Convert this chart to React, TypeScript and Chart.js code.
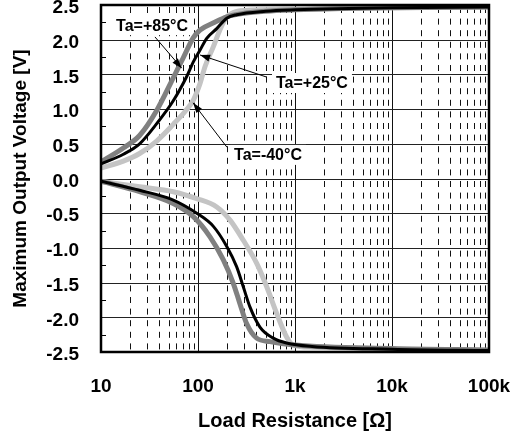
import React, { useEffect, useRef } from 'react';
import { Chart, registerables } from 'chart.js';

Chart.register(...registerables);

// ---- axis ticks ----
const xTickValues = [10, 100, 1000, 10000, 100000];
const xTickLabels = ['10', '100', '1k', '10k', '100k'];
const yTickValues = [-2.5, -2.0, -1.5, -1.0, -0.5, 0.0, 0.5, 1.0, 1.5, 2.0, 2.5];
const yMinorTickValues = [-2.25, -1.75, -1.25, -0.75, -0.25, 0.25, 0.75, 1.25, 1.75, 2.25];
const xMinorMultipliers = [2, 3, 4, 5, 6, 7, 8, 9];

// ---- series (load resistance [ohm], voltage [V]) ----
// Ta=+85°C
const r85Pos = [10, 17, 25, 37.5, 55.6, 70.5, 89.5, 105, 143, 198, 300, 500, 1000, 3000, 10000, 100000];
const v85Pos = [0.24, 0.44, 0.62, 0.98, 1.45, 1.74, 2.03, 2.14, 2.24, 2.33, 2.38, 2.41, 2.43, 2.45, 2.46, 2.47];
const r85Neg = [10, 25, 55.6, 89.5, 133, 182, 231, 270, 317, 402, 552, 1000, 10000, 100000];
const v85Neg = [-0.04, -0.19, -0.36, -0.55, -0.84, -1.17, -1.51, -1.8, -2.09, -2.3, -2.35, -2.4, -2.45, -2.47];
// Ta=+25°C
const r25Pos = [10, 17, 25, 37.5, 55.6, 76.5, 89.5, 105, 123, 156, 198, 250, 500, 1000, 10000, 100000];
const v25Pos = [0.21, 0.35, 0.5, 0.79, 1.12, 1.47, 1.68, 1.85, 2.02, 2.16, 2.31, 2.36, 2.41, 2.43, 2.46, 2.47];
const r25Neg = [10, 25, 55.6, 97, 144, 198, 250, 293, 343, 435, 597, 817, 1500, 10000, 100000];
const v25Neg = [-0.04, -0.17, -0.31, -0.5, -0.69, -0.98, -1.27, -1.56, -1.85, -2.14, -2.3, -2.37, -2.42, -2.46, -2.48];
// Ta=-40°C
const rM40Pos = [10, 17, 25, 37.5, 55.6, 75, 89.5, 105, 118, 144, 168, 198, 231, 300, 1000, 10000, 100000];
const vM40Pos = [0.15, 0.25, 0.36, 0.54, 0.78, 0.98, 1.13, 1.37, 1.61, 1.9, 2.14, 2.33, 2.39, 2.42, 2.44, 2.46, 2.47];
const rM40Neg = [10, 25, 55.6, 97, 156, 214, 293, 402, 511, 646, 817, 956, 1500, 10000, 100000];
const vM40Neg = [-0.04, -0.12, -0.19, -0.29, -0.41, -0.6, -0.89, -1.22, -1.56, -1.94, -2.28, -2.4, -2.43, -2.46, -2.48];

// ---- annotations ----
const annLabels = ['Ta=+85°C', 'Ta=+25°C', 'Ta=-40°C'];
const annTextR = [33.6, 1496, 527];
const annTextV = [2.21, 1.376, 0.34];
const arrowFromR = [36, 514, 199];
const arrowFromV = [2.04, 1.46, 0.45];
const arrowToR = [67.9, 105, 89];
const arrowToV = [1.59, 1.78, 1.09];

const FONT = '"Liberation Sans", Arial, Helvetica, sans-serif';

const toPts = (rs: number[], vs: number[]) => rs.map((r, i) => ({ x: r, y: vs[i] }));

const gridPlugin = {
  id: 'customGrid',
  beforeDatasetsDraw(chart: any) {
    const { ctx, chartArea, scales } = chart;
    const { left, right, top, bottom } = chartArea;
    const x = scales.x;
    const y = scales.y;
    ctx.save();
    // minor vertical dashed lines
    ctx.strokeStyle = '#111';
    ctx.lineWidth = 1;
    ctx.setLineDash([6, 5.6]);
    ctx.lineDashOffset = -2;
    for (let d = 0; d < xTickValues.length - 1; d++) {
      for (const m of xMinorMultipliers) {
        const px = Math.round(x.getPixelForValue(xTickValues[d] * m)) + 0.5;
        ctx.beginPath();
        ctx.moveTo(px, top);
        ctx.lineTo(px, bottom);
        ctx.stroke();
      }
    }
    ctx.setLineDash([]);
    // major vertical lines
    for (let i = 1; i < xTickValues.length - 1; i++) {
      const px = Math.round(x.getPixelForValue(xTickValues[i])) + 0.5;
      ctx.beginPath();
      ctx.moveTo(px, top);
      ctx.lineTo(px, bottom);
      ctx.stroke();
    }
    // horizontal lines
    ctx.strokeStyle = '#222';
    for (let i = 1; i < yTickValues.length - 1; i++) {
      const py = Math.round(y.getPixelForValue(yTickValues[i])) + 0.5;
      ctx.beginPath();
      ctx.moveTo(left, py);
      ctx.lineTo(right, py);
      ctx.stroke();
    }
    // minor ticks on the left border
    ctx.strokeStyle = '#000';
    for (const v of yMinorTickValues) {
      const py = Math.round(y.getPixelForValue(v)) + 0.5;
      ctx.beginPath();
      ctx.moveTo(left, py);
      ctx.lineTo(left + 5, py);
      ctx.stroke();
    }
    ctx.restore();
  },
  afterDatasetsDraw(chart: any) {
    const { ctx, chartArea, scales } = chart;
    const { left, right, top, bottom } = chartArea;
    const x = scales.x;
    const y = scales.y;
    ctx.save();
    // frame
    ctx.strokeStyle = '#000';
    ctx.lineWidth = 2.5;
    ctx.strokeRect(left, top, right - left, bottom - top);
    // annotations
    ctx.font = `bold 16px ${FONT}`;
    ctx.textAlign = 'center';
    ctx.textBaseline = 'middle';
    for (let i = 0; i < annLabels.length; i++) {
      const tx = x.getPixelForValue(annTextR[i]);
      const ty = y.getPixelForValue(annTextV[i]);
      const w = ctx.measureText(annLabels[i]).width;
      ctx.fillStyle = '#fff';
      ctx.fillRect(tx - w / 2 - 4, ty - 10, w + 8, 20);
      ctx.fillStyle = '#000';
      ctx.fillText(annLabels[i], tx, ty + 1);
      const fx = x.getPixelForValue(arrowFromR[i]);
      const fy = y.getPixelForValue(arrowFromV[i]);
      const ex = x.getPixelForValue(arrowToR[i]);
      const ey = y.getPixelForValue(arrowToV[i]);
      ctx.strokeStyle = '#000';
      ctx.lineWidth = 1;
      ctx.beginPath();
      ctx.moveTo(fx, fy);
      ctx.lineTo(ex, ey);
      ctx.stroke();
      const ang = Math.atan2(ey - fy, ex - fx);
      const L = 10;
      const H = 3.5;
      ctx.beginPath();
      ctx.moveTo(ex, ey);
      ctx.lineTo(ex - L * Math.cos(ang) + H * Math.sin(ang), ey - L * Math.sin(ang) - H * Math.cos(ang));
      ctx.lineTo(ex - L * Math.cos(ang) - H * Math.sin(ang), ey - L * Math.sin(ang) + H * Math.cos(ang));
      ctx.closePath();
      ctx.fill();
    }
    ctx.restore();
  },
};

export default function App() {
  const ref = useRef<HTMLCanvasElement | null>(null);
  useEffect(() => {
    document.body.style.margin = '0';
    if (!ref.current) return;
    const mk = (label: string, rs: number[], vs: number[], color: string, width: number, order: number) => ({
      label,
      data: toPts(rs, vs),
      borderColor: color,
      backgroundColor: color,
      borderWidth: width,
      pointRadius: 0,
      fill: false,
      cubicInterpolationMode: 'monotone' as const,
      order,
    });
    const chart = new Chart(ref.current, {
      type: 'line',
      data: {
        datasets: [
          mk('Ta=-40°C', rM40Pos, vM40Pos, '#c4c4c4', 5, 3),
          mk('Ta=-40°C ', rM40Neg, vM40Neg, '#c4c4c4', 5, 3),
          mk('Ta=+85°C', r85Pos, v85Pos, '#808080', 5, 2),
          mk('Ta=+85°C ', r85Neg, v85Neg, '#808080', 5, 2),
          mk('Ta=+25°C', r25Pos, v25Pos, '#000000', 3, 1),
          mk('Ta=+25°C ', r25Neg, v25Neg, '#000000', 3, 1),
        ],
      },
      options: {
        responsive: false,
        animation: false,
        devicePixelRatio: 1,
        layout: { padding: { top: 5, right: 25, left: 0, bottom: 0 } },
        plugins: { legend: { display: false }, tooltip: { enabled: false } },
        scales: {
          x: {
            type: 'logarithmic',
            min: 10,
            max: 100000,
            grid: { display: false },
            border: { display: false },
            afterBuildTicks: (scale: any) => {
              scale.ticks = xTickValues.map((v) => ({ value: v }));
            },
            afterFit: (scale: any) => {
              scale.height = 84;
              scale.paddingLeft = 0;
              scale.paddingRight = 0;
            },
            ticks: {
              autoSkip: false,
              maxRotation: 0,
              padding: 15,
              color: '#000',
              font: { family: FONT, size: 19, weight: 'bold' },
              callback: (value: any) => {
                const i = xTickValues.indexOf(Number(value));
                return i >= 0 ? xTickLabels[i] : '';
              },
            },
            title: {
              display: true,
              text: 'Load Resistance [Ω]',
              color: '#000',
              font: { family: FONT, size: 20, weight: 'bold' },
              padding: { top: 0, bottom: 3 },
            },
          },
          y: {
            type: 'linear',
            min: -2.5,
            max: 2.5,
            grid: { display: false },
            border: { display: false },
            afterBuildTicks: (scale: any) => {
              scale.ticks = yTickValues.map((v) => ({ value: v }));
            },
            afterFit: (scale: any) => {
              scale.width = 101;
              scale.paddingTop = 0;
              scale.paddingBottom = 0;
            },
            ticks: {
              padding: 14,
              labelOffset: 3,
              color: '#000',
              font: { family: FONT, size: 19, weight: 'bold' },
              callback: (value: any) => Number(value).toFixed(1),
            },
            title: {
              display: true,
              text: 'Maximum Output Voltage [V]',
              color: '#000',
              font: { family: FONT, size: 19, weight: 'bold' },
              padding: { top: 9, bottom: 0 },
            },
          },
        },
      },
      plugins: [gridPlugin],
    });
    return () => chart.destroy();
  }, []);
  return (
    <div style={{ width: 514, height: 436 }}>
      <canvas ref={ref} width={514} height={436} style={{ display: 'block' }} />
    </div>
  );
}
